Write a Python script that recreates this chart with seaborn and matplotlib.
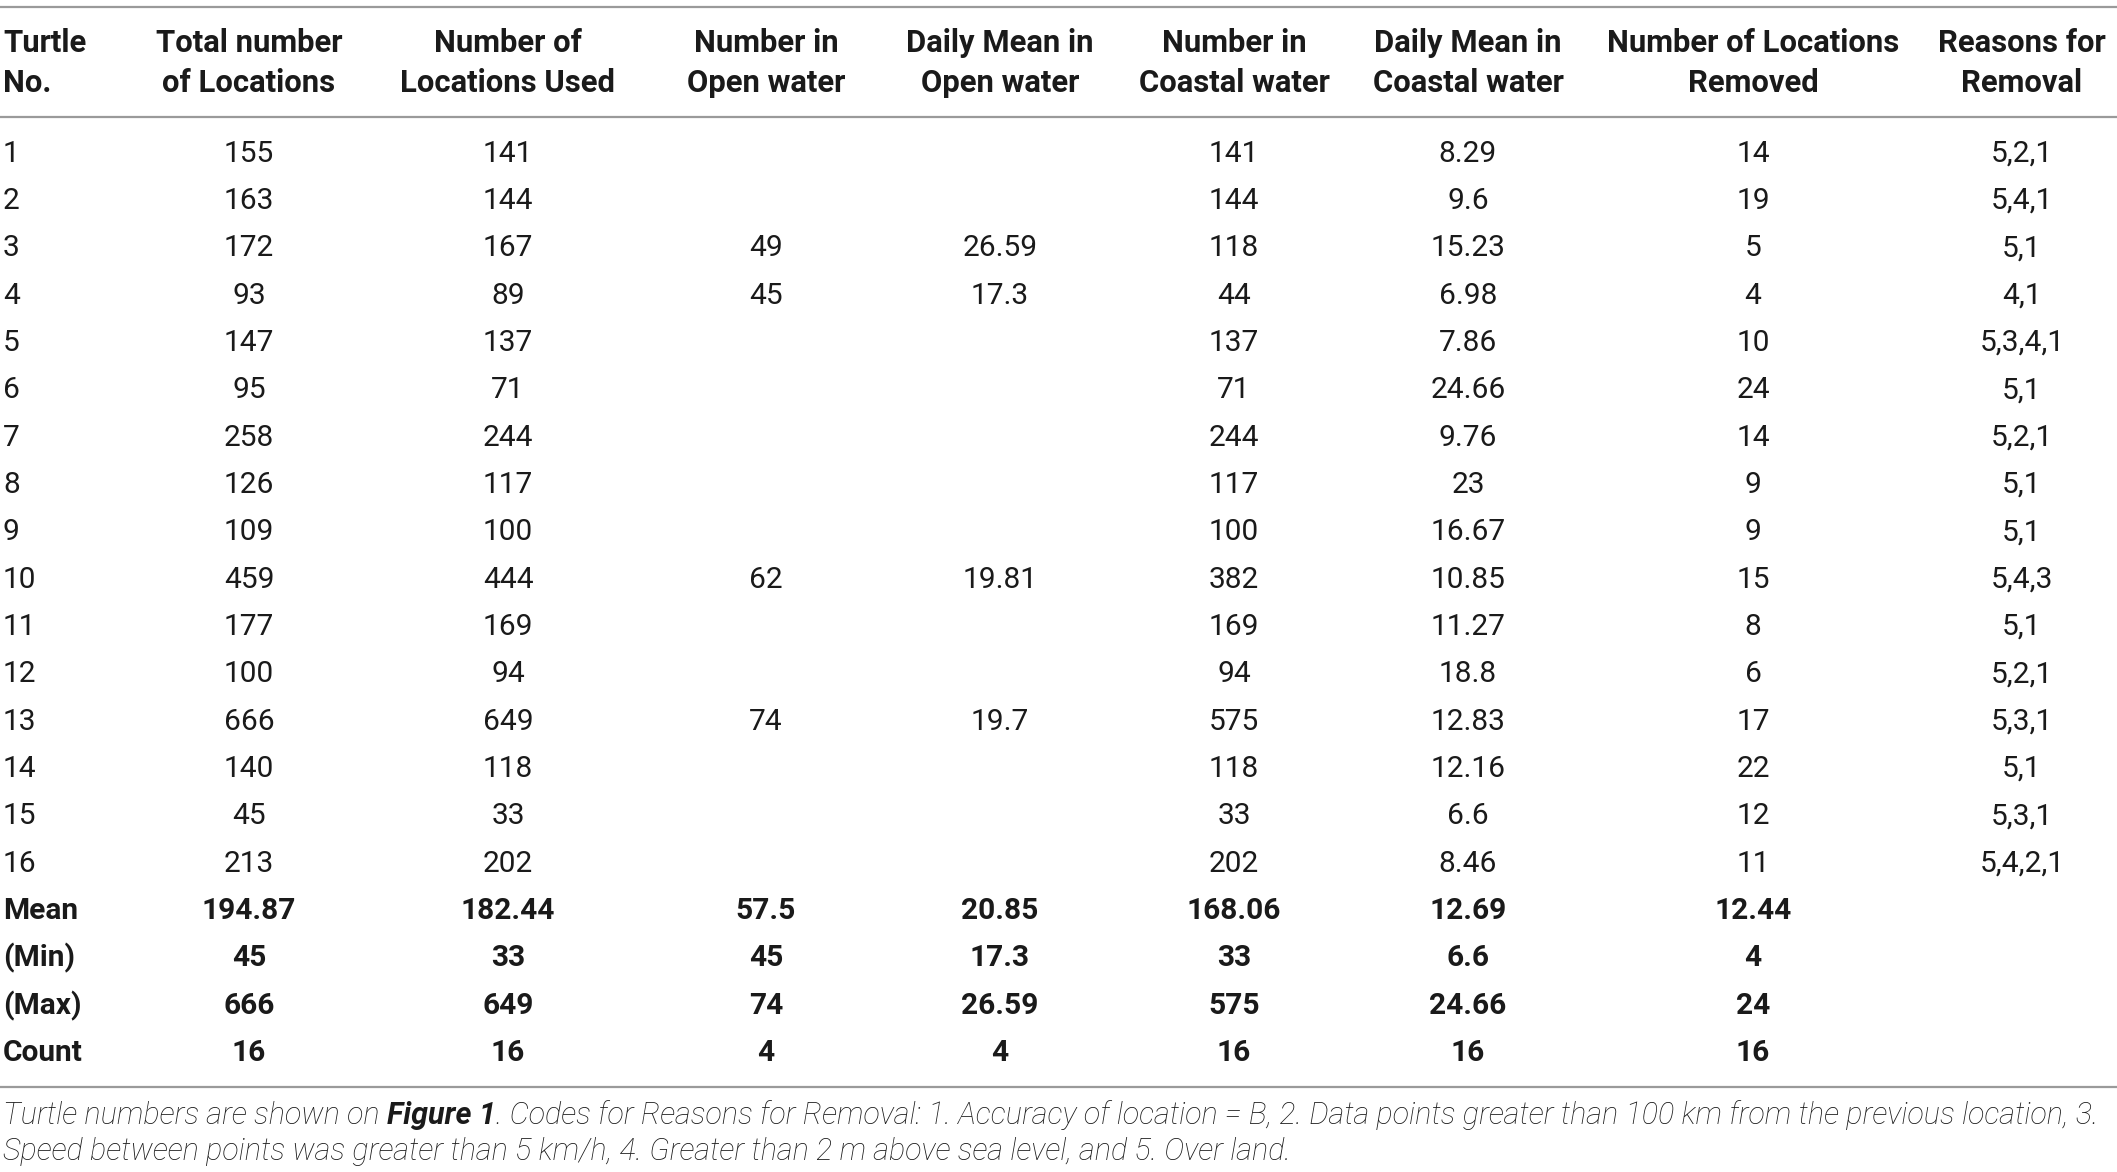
import matplotlib
matplotlib.use("Agg")
import matplotlib.pyplot as plt
import seaborn as sns
import pandas as pd

sns.set_theme(style="white")
plt.rcParams['font.family'] = ['Roboto', 'DejaVu Sans']

headers = [
    "Turtle\nNo.", "Total number\nof Locations", "Number of\nLocations Used",
    "Number in\nOpen water", "Daily Mean in\nOpen water", "Number in\nCoastal water",
    "Daily Mean in\nCoastal water", "Number of Locations\nRemoved", "Reasons for\nRemoval",
]
turtle_no = [str(i) for i in range(1, 17)]
total_locations = ["155", "163", "172", "93", "147", "95", "258", "126", "109", "459", "177", "100", "666", "140", "45", "213"]
locations_used = ["141", "144", "167", "89", "137", "71", "244", "117", "100", "444", "169", "94", "649", "118", "33", "202"]
open_number = ["", "", "49", "45", "", "", "", "", "", "62", "", "", "74", "", "", ""]
open_daily_mean = ["", "", "26.59", "17.3", "", "", "", "", "", "19.81", "", "", "19.7", "", "", ""]
coastal_number = ["141", "144", "118", "44", "137", "71", "244", "117", "100", "382", "169", "94", "575", "118", "33", "202"]
coastal_daily_mean = ["8.29", "9.6", "15.23", "6.98", "7.86", "24.66", "9.76", "23", "16.67", "10.85", "11.27", "18.8", "12.83", "12.16", "6.6", "8.46"]
locations_removed = ["14", "19", "5", "4", "10", "24", "14", "9", "9", "15", "8", "6", "17", "22", "12", "11"]
removal_reasons = ["5,2,1", "5,4,1", "5,1", "4,1", "5,3,4,1", "5,1", "5,2,1", "5,1", "5,1", "5,4,3", "5,1", "5,2,1", "5,3,1", "5,1", "5,3,1", "5,4,2,1"]

summary_labels = ["Mean", "(Min)", "(Max)", "Count"]
summary_total = ["194.87", "45", "666", "16"]
summary_used = ["182.44", "33", "649", "16"]
summary_open_n = ["57.5", "45", "74", "4"]
summary_open_m = ["20.85", "17.3", "26.59", "4"]
summary_coast_n = ["168.06", "33", "575", "16"]
summary_coast_m = ["12.69", "6.6", "24.66", "16"]
summary_removed = ["12.44", "4", "24", "16"]
summary_reasons = ["", "", "", ""]

caption_1 = ["Turtle numbers are shown on ", "Figure 1", ". Codes for Reasons for Removal: 1. Accuracy of location = B, 2. Data points greater than 100 km from the previous location, 3."]
caption_2 = "Speed between points was greater than 5 km/h, 4. Greater than 2 m above sea level, and 5. Over land."

body = pd.DataFrame({
    "c0": turtle_no, "c1": total_locations, "c2": locations_used, "c3": open_number,
    "c4": open_daily_mean, "c5": coastal_number, "c6": coastal_daily_mean,
    "c7": locations_removed, "c8": removal_reasons,
})
summ = pd.DataFrame({
    "c0": summary_labels, "c1": summary_total, "c2": summary_used, "c3": summary_open_n,
    "c4": summary_open_m, "c5": summary_coast_n, "c6": summary_coast_m,
    "c7": summary_removed, "c8": summary_reasons,
})

W, H = 2117, 1172
fig = plt.figure(figsize=(W / 100, H / 100), dpi=100)
ax = fig.add_axes([0, 0, 1, 1])
ax.set_xlim(0, W)
ax.set_ylim(H, 0)
ax.axis("off")

col_x = [3, 249, 508, 766, 1000, 1234, 1468, 1753, 2022]
txt = "#1a1a1a"
fs = 21.5
hfs = 22.3
line_c = "#9a9a9a"

for y in (7, 117, 1087):
    ax.plot([0, W], [y, y], color=line_c, lw=1.6, solid_capstyle="butt")

for j, h in enumerate(headers):
    ha = "left" if j == 0 else "center"
    ax.text(col_x[j], 63, h, ha=ha, va="center", fontsize=hfs, fontweight="bold",
            color=txt, linespacing=1.45, multialignment=ha)

row_y0, row_dy = 153.5, 47.35
for i in range(len(body)):
    y = row_y0 + i * row_dy
    for j, c in enumerate(body.columns):
        ha = "left" if j == 0 else "center"
        ax.text(col_x[j], y, body.iloc[i][c], ha=ha, va="center", fontsize=fs,
                fontweight="normal", color=txt)
for k in range(len(summ)):
    y = row_y0 + (len(body) + k) * row_dy
    for j, c in enumerate(summ.columns):
        ha = "left" if j == 0 else "center"
        ax.text(col_x[j], y, summ.iloc[k][c], ha=ha, va="center", fontsize=fs,
                fontweight="bold", color=txt)

# caption line 1 with a bold part
cap_fs = 22
x = 3
r = fig.canvas.get_renderer()
for part, w in zip(caption_1, ["light", "bold", "light"]):
    t = ax.text(x, 1115, part, ha="left", va="center", fontsize=cap_fs,
                fontstyle="italic", fontweight=w, color=txt)
    bb = t.get_window_extent(renderer=r)
    x += bb.width
ax.text(3, 1152, caption_2, ha="left", va="center", fontsize=cap_fs,
        fontstyle="italic", fontweight="light", color=txt)

fig.savefig("out.png", dpi=100, facecolor="white")
